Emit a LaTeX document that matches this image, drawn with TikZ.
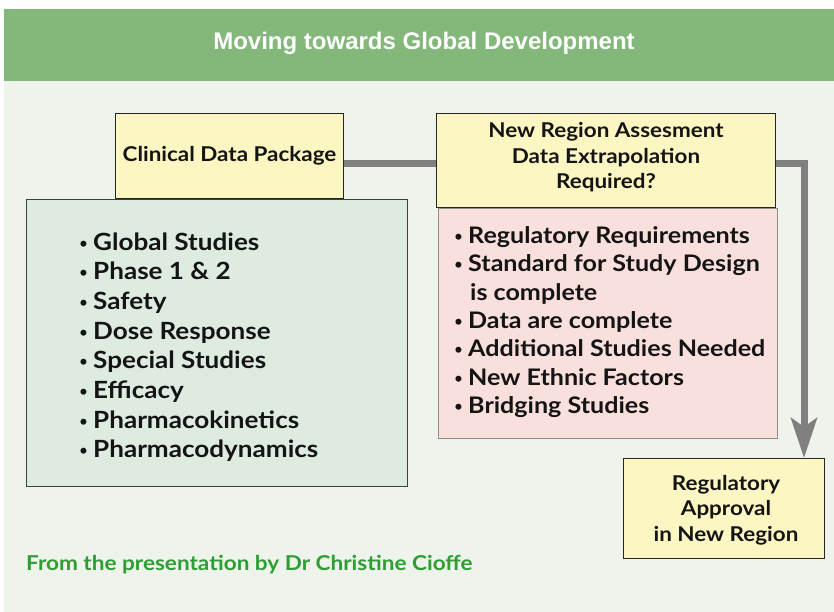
\documentclass[tikz,border=0pt]{standalone}
\usepackage{fontspec}
\setmainfont{Lato}[FakeStretch=1.1]
\newfontfamily\titlefont{Liberation Sans}
\newfontfamily\bulfont{DejaVu Sans}
\usetikzlibrary{arrows.meta}
\definecolor{bandgreen}{HTML}{83B87A}
\definecolor{bglight}{HTML}{EEF4EB}
\definecolor{boxyellow}{HTML}{FBF6C2}
\definecolor{boxgreen}{HTML}{DDEBE0}
\definecolor{boxpink}{HTML}{FAE0DD}
\definecolor{conngray}{HTML}{808080}
\definecolor{footgreen}{HTML}{2E9E34}
\newcommand{\bul}{\makebox[15pt][l]{\bulfont\fontsize{17}{17}\selectfont •}}
\begin{document}
\begin{tikzpicture}[x=1pt,y=-1pt,
  panel/.style={draw=black!85, line width=1pt, inner sep=0pt, anchor=north west},
  ybox/.style={panel, fill=boxyellow},
  conn/.style={draw=conngray, line width=7pt, line join=miter},
  boxtext/.style={font=\bfseries\fontsize{20.4}{25.5}\selectfont, align=center, inner sep=0pt, text=black!92},
  glist/.style={font=\bfseries\fontsize{23.7}{26}\selectfont, anchor=base west, inner sep=0pt, text=black!92},
  plist/.style={font=\bfseries\fontsize{22.8}{26}\selectfont, anchor=base west, inner sep=0pt, text=black!92}]
\useasboundingbox (0,0) rectangle (834,612);
\fill[white] (0,0) rectangle (834,612);
\fill[bglight] (4,9) rectangle (834,612);
\fill[bandgreen] (4,9) rectangle (834,81);
\node[anchor=base, inner sep=0pt, text=white, font=\titlefont\bfseries\fontsize{24}{28}\selectfont] (title) at (424,50) {Moving towards Global Development};

% boxes
\node[panel, fill=boxgreen, draw=black!75, line width=1.3pt, minimum width=381pt, minimum height=287pt] (gbox) at (26,199) {};
\node[ybox, minimum width=228pt, minimum height=85pt, boxtext] (cdp) at (115,113) {Clinical Data Package};
\node[panel, fill=boxpink, draw=black!45, minimum width=339pt, minimum height=230pt] (pbox) at (438,208) {};
\node[ybox, minimum width=339pt, minimum height=94pt] (nr) at (436,113) {};
\node[boxtext] (nrtext) at (606,157.5) {New Region Assesment\\Data Extrapolation\\Required?};
\node[ybox, minimum width=201pt, minimum height=100pt] (reg) at (623,458) {};
\node[boxtext] (regtext) at (726,510) {Regulatory\\Approval\\in New Region};

% connectors
\coordinate (j1) at (804,163.5);
\draw[conn] (cdp.east |- j1) -- (nr.west |- j1);
\draw[conn, -{Stealth[length=40pt, width=26pt, inset=9pt]}] (nr.east |- j1) -- (j1) -- (j1 |- reg.north);

% green list
\foreach \t [count=\i] in {Global Studies, Phase 1 \& 2, Safety, Dose Response, Special Studies, Efficacy, Pharmacokinetics, Pharmacodynamics}{
  \node[glist] (g\i) at (78,{250+29.7*(\i-1)}) {\bul\t};
}
% pink list
\node[plist] (p1) at (453,243) {\bul Regulatory Requirements};
\node[plist] (p2) at (453,271.5) {\bul Standard for Study Design};
\node[plist] (p3) at (470,300) {is complete};
\node[plist] (p4) at (453,328) {\bul Data are complete};
\node[plist] (p5) at (453,356.5) {\bul Additional Studies Needed};
\node[plist] (p6) at (453,385) {\bul New Ethnic Factors};
\node[plist] (p7) at (453,413) {\bul Bridging Studies};

\node[anchor=base west, inner sep=0pt, text=footgreen, font=\bfseries\fontsize{20.5}{22}\selectfont] (foot) at (26,570) {From the presentation by Dr Christine Cioffe};
\end{tikzpicture}
\end{document}
